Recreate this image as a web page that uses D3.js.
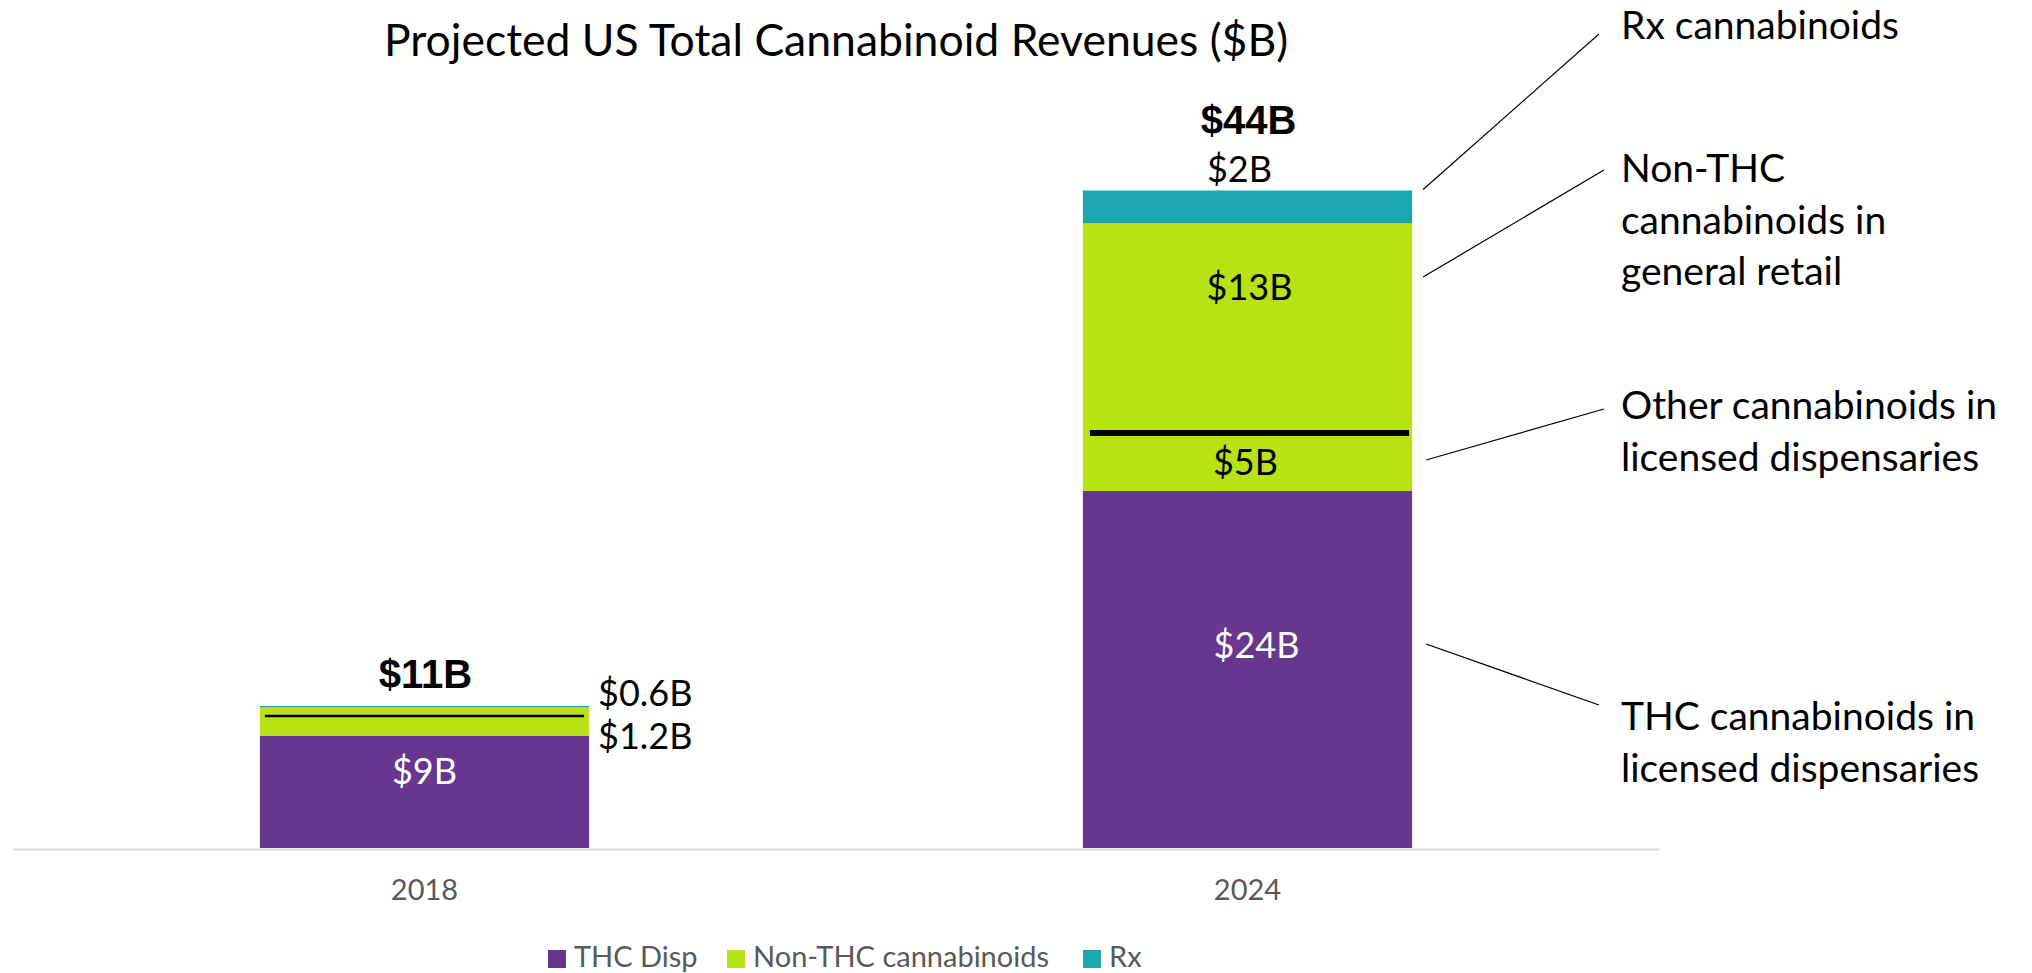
<!DOCTYPE html>
<html lang="en">
<head>
<meta charset="utf-8" />
<style>
  body { margin: 0; background: #fff; }
  svg text { font-family: Lato, "Open Sans", sans-serif; }
  .bold { font-family: "Liberation Sans", Arial, sans-serif !important; font-weight: bold; }
</style>
</head>
<body>
<svg width="2032" height="973"></svg>
<script src="https://d3js.org/d3.v7.min.js"></script>
<script>
var years = ["2018", "2024"],
    seriesNames = ["THC Disp", "Non-THC cannabinoids", "Rx"],
    seriesColors = ["#67368f", "#b7e214", "#1aa8b0"],
    thcDisp = [7.55, 24],
    nonThc = [1.9, 18],
    rx = [0.1, 2.2],
    splitAt = [8.87, 27.9],          // black divider drawn inside the green block
    totalLabels = ["$11B", "$44B"],
    thcLabels = ["$9B", "$24B"],
    sideLabels2018 = ["$0.6B", "$1.2B"],
    labels2024 = { rx: "$2B", nonThc: "$13B", other: "$5B" },
    notes = [
      ["Rx cannabinoids"],
      ["Non-THC", "cannabinoids in", "general retail"],
      ["Other cannabinoids in", "licensed dispensaries"],
      ["THC cannabinoids in", "licensed dispensaries"]
    ];

var svg = d3.select("svg"),
    baseY = 848;

var x = d3.scaleBand().domain(years).range([13, 1659]).paddingInner(0.6).paddingOuter(0.3);
var y = d3.scaleLinear().domain([0, 50]).range([baseY, baseY - 50 * 14.875]);

var rows = years.map(function(yr, i) {
  return { year: yr, thc: thcDisp[i], non: nonThc[i], rx: rx[i] };
});
var stack = d3.stack().keys(["thc", "non", "rx"])(rows);

// title
svg.append("text")
    .attr("x", 836).attr("y", 56)
    .attr("text-anchor", "middle")
    .style("font-size", "44.5px")
    .text("Projected US Total Cannabinoid Revenues ($B)");

// axis
var axis = svg.append("g")
    .attr("transform", "translate(0," + (baseY + 1) + ")")
    .call(d3.axisBottom(x).tickSize(0));
axis.select(".domain").attr("stroke", "#d9d9d9").attr("stroke-width", 2);
axis.selectAll("text")
    .attr("y", 51).attr("dy", 0)
    .attr("fill", "#595959")
    .style("font-size", "29px")
    .style("font-family", "Lato, sans-serif");

// bars
svg.append("g").selectAll("g")
  .data(stack)
  .join("g")
    .attr("fill", function(d, i) { return seriesColors[i]; })
  .selectAll("rect")
  .data(function(d) { return d; })
  .join("rect")
    .attr("x", function(d) { return x(d.data.year); })
    .attr("width", x.bandwidth())
    .attr("y", function(d) { return y(d[1]); })
    .attr("height", function(d) { return y(d[0]) - y(d[1]); });

// divider lines inside the green block
svg.append("g").selectAll("line")
  .data(years)
  .join("line")
    .attr("x1", function(d, i) { return x(d) + (i ? 7 : 5); })
    .attr("x2", function(d, i) { return x(d) + x.bandwidth() - (i ? 3 : 5); })
    .attr("y1", function(d, i) { return y(splitAt[i]); })
    .attr("y2", function(d, i) { return y(splitAt[i]); })
    .attr("stroke", "#000")
    .attr("stroke-width", function(d, i) { return i ? 6 : 2.5; });

var totals = rows.map(function(r) { return r.thc + r.non + r.rx; });
var cx = function(yr) { return x(yr) + x.bandwidth() / 2; };

// totals
svg.append("g").selectAll("text")
  .data(years)
  .join("text")
    .attr("class", "bold")
    .attr("x", function(d) { return cx(d) + 1; })
    .attr("y", function(d, i) { return y(totals[i]) - (i ? 57 : 18); })
    .attr("text-anchor", "middle")
    .style("font-size", "40px")
    .text(function(d, i) { return totalLabels[i]; });

// purple segment labels
svg.append("g").selectAll("text")
  .data(years)
  .join("text")
    .attr("x", function(d, i) { return cx(d) + (i ? 9 : 0); })
    .attr("y", function(d, i) { return (y(0) + y(thcDisp[i])) / 2 + (i ? -12 : -8); })
    .attr("text-anchor", "middle")
    .attr("fill", "#fff")
    .style("font-size", "36px")
    .text(function(d, i) { return thcLabels[i]; });

// 2018 labels beside the bar
svg.append("g").selectAll("text")
  .data(sideLabels2018)
  .join("text")
    .attr("x", x("2018") + x.bandwidth() + 9)
    .attr("y", function(d, i) { return y(totals[0]) + (i ? 43 : 0); })
    .style("font-size", "36px")
    .text(function(d) { return d; });

// 2024 green / teal labels
var c24 = cx("2024");
svg.append("text")
    .attr("x", c24 - 8).attr("y", y(totals[1]) - 9)
    .attr("text-anchor", "middle").style("font-size", "36px")
    .text(labels2024.rx);
svg.append("text")
    .attr("x", c24 + 2).attr("y", y(thcDisp[1] + nonThc[1]) + 77)
    .attr("text-anchor", "middle").style("font-size", "36px")
    .text(labels2024.nonThc);
svg.append("text")
    .attr("x", c24 - 2).attr("y", (y(thcDisp[1]) + y(splitAt[1])) / 2 + 13)
    .attr("text-anchor", "middle").style("font-size", "36px")
    .text(labels2024.other);

// callouts on the right
var x0 = x("2024") + x.bandwidth() + 11;
var callouts = [
  { from: [x0, y(totals[1]) - 1], to: [1599, 34], base: 39 },
  { from: [x0, 277], to: [1604, 170], base: 182 },
  { from: [x0 + 3, 460], to: [1604, 409], base: 419 },
  { from: [x0 + 3, 644], to: [1599, 705], base: 730 }
];

var note = svg.append("g").selectAll("g")
  .data(callouts)
  .join("g");

note.append("line")
    .attr("x1", function(d) { return d.from[0]; })
    .attr("y1", function(d) { return d.from[1]; })
    .attr("x2", function(d) { return d.to[0]; })
    .attr("y2", function(d) { return d.to[1]; })
    .attr("stroke", "#000")
    .attr("stroke-width", 1.2);

note.append("text")
    .attr("x", 1621)
    .attr("y", function(d) { return d.base; })
    .style("font-size", "39px")
  .selectAll("tspan")
  .data(function(d, i) { return notes[i]; })
  .join("tspan")
    .attr("x", 1621)
    .attr("dy", function(d, i) { return i ? 51.5 : 0; })
    .text(function(d) { return d; });

// legend
var legendX = [548, 727, 1083];
var legend = svg.append("g").selectAll("g")
  .data(seriesNames)
  .join("g")
    .attr("transform", function(d, i) { return "translate(" + legendX[i] + ",950)"; });

legend.append("rect")
    .attr("width", 18).attr("height", 18)
    .attr("fill", function(d, i) { return seriesColors[i]; });

legend.append("text")
    .attr("x", 26).attr("y", 17)
    .attr("fill", "#595959")
    .style("font-size", "29px")
    .text(function(d) { return d; });
</script>
</body>
</html>
